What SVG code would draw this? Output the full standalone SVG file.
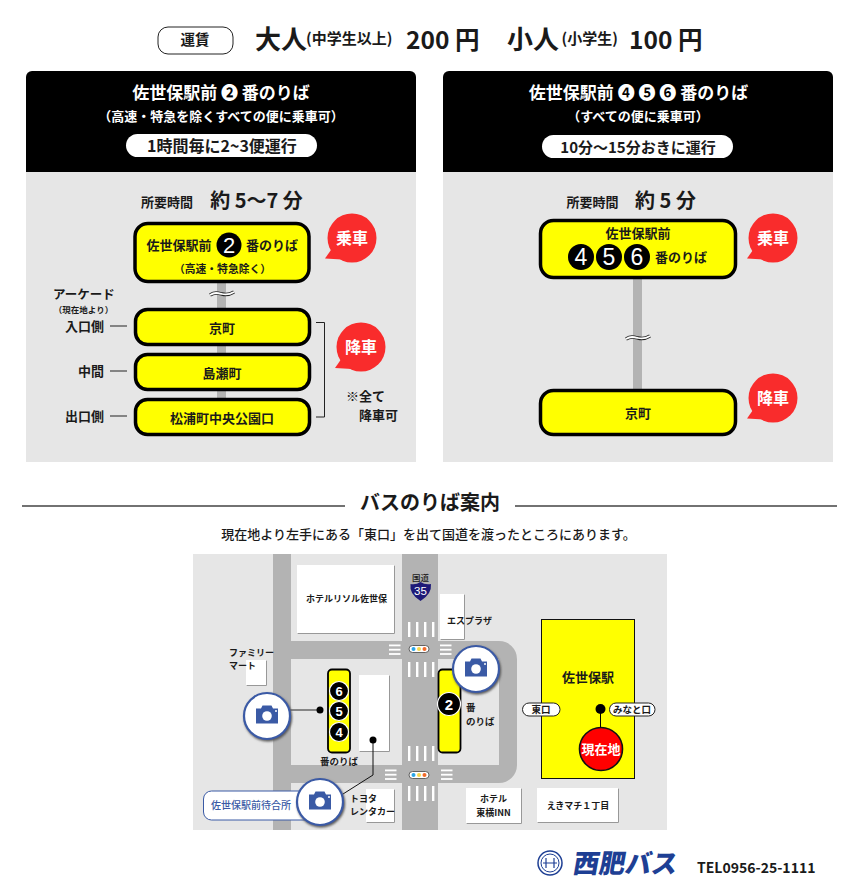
<svg xmlns="http://www.w3.org/2000/svg" xmlns:xlink="http://www.w3.org/1999/xlink" width="860" height="890" viewBox="0 0 860 890">
<style>
text{font-family:"Noto Sans CJK JP","Noto Sans",sans-serif;font-weight:700;fill:#1a1a1a;text-anchor:middle}
.w{fill:#fff}.s{text-anchor:start}.e{text-anchor:end}
.n{font-family:"Liberation Sans",sans-serif;font-weight:400;fill:#fff}
.y{fill:#ff0;stroke:#000;stroke-width:3.5}
.road{fill:#b3b3b3}
.bld{fill:#fff;filter:url(#sh)}
.st{fill:#fff}
.b{fill:#f92c2c}
.wave1{fill:none;stroke:#222;stroke-width:3.4}
.wave2{fill:none;stroke:#fff;stroke-width:1.8}
.cam{fill:#fff;stroke:#3a5aa5;stroke-width:2.2;filter:url(#sh2)}
.f13{font-size:13px}.f12{font-size:13px}.f10{font-size:10.800px}
</style>
<defs>
<filter id="sh" x="-20%" y="-20%" width="140%" height="140%"><feDropShadow dx="0.7" dy="0.7" stdDeviation="0.4" flood-color="#777"/></filter>
<filter id="sh2" x="-20%" y="-20%" width="140%" height="140%"><feDropShadow dx="1" dy="1.5" stdDeviation="1.2" flood-color="#555"/></filter>
<g id="camicon"><path d="M-11-7.500h5l1.500-3h9l1.500 3h5v15h-22z" fill="#3a5aa5"/><circle cx="0" cy="0" r="4.800" fill="#fff"/><circle cx="9" cy="-5" r="1" fill="#fff"/></g>
<g id="stripesV"><rect x="408" width="2.400" height="15" class="st"/><rect x="416" width="2.400" height="15" class="st"/><rect x="424" width="2.400" height="15" class="st"/><rect x="432" width="2.400" height="15" class="st"/></g>
<g id="stripesH"><rect width="11.500" height="1.800" class="st"/><rect y="4.300" width="11.500" height="1.800" class="st"/><rect y="8.600" width="11.500" height="1.800" class="st"/></g>
<g id="sig"><rect x="-10" y="-3.500" width="20" height="7" rx="3.500" fill="#fff" stroke="#444" stroke-width=".8"/><circle cx="-5.500" r="2" fill="#2aa5e8"/><circle r="2" fill="#f7d84a"/><circle cx="5.500" r="2" fill="#f26a2a"/></g>
</defs>
<rect width="860" height="890" fill="#fff"/>

<g id="fare">
<rect x="158" y="27" width="75" height="27" rx="10" fill="#fff" stroke="#222" stroke-width="1"/>
<text x="195" y="45" font-size="14.500">運賃</text>
<text x="255" y="49" class="s" font-size="26">大人</text>
<text x="306" y="44" class="s" font-size="15">(中学生以上)</text>
<text x="406" y="49" class="s" font-size="24.500">200 円</text>
<text x="507" y="49" class="s" font-size="26">小人</text>
<text x="561.500" y="44" class="s" font-size="15">(小学生)</text>
<text x="629" y="49" class="s" font-size="24.500">100 円</text>
</g>

<g id="panel-left">
<rect x="26" y="172" width="390" height="290" fill="#e6e6e6"/>
<path d="M26 172V77a6 6 0 0 1 6-6H410a6 6 0 0 1 6 6V172z" fill="#000"/>
<text x="221" y="99" class="w" font-size="17">佐世保駅前 ❷ 番のりば</text>
<text x="221" y="121" class="w" font-size="13">（高速・特急を除くすべての便に乗車可）</text>
<rect x="126" y="134" width="191" height="23" rx="11.500" fill="#fff"/>
<text x="222" y="151.500" font-size="16">1時間毎に2~3便運行</text>
<text x="167" y="207" class="f12">所要時間</text>
<text x="256.500" y="208" font-size="20">約 5〜7 分</text>
</g>

<g id="panel-right">
<rect x="443" y="172" width="390" height="290" fill="#e6e6e6"/>
<path d="M443 172V77a6 6 0 0 1 6-6H827a6 6 0 0 1 6 6V172z" fill="#000"/>
<text x="638.500" y="99" class="w" font-size="17">佐世保駅前 ❹ ❺ ❻ 番のりば</text>
<text x="638" y="121" class="w" font-size="13">（すべての便に乗車可）</text>
<rect x="542" y="135" width="191" height="23" rx="11.500" fill="#fff"/>
<text x="638" y="152.500" font-size="15">10分～15分おきに運行</text>
<text x="592.500" y="207" class="f12">所要時間</text>
<text x="665.500" y="208" font-size="20">約 5 分</text>
</g>

<g id="connectors">
<rect x="217" y="283" width="9" height="115" fill="#b3b3b3"/>
<rect x="633" y="279" width="9" height="110" fill="#b3b3b3"/>
<path class="wave1" d="M210 295c5-3 8-2 12-1s7 1 12-2"/><path class="wave2" d="M210 295c5-3 8-2 12-1s7 1 12-2"/>
<path class="wave1" d="M626 339c5-3 8-2 12-1s7 1 12-2"/><path class="wave2" d="M626 339c5-3 8-2 12-1s7 1 12-2"/>
<path d="M316 322.500h8.500v94.500h-8.500" fill="none" stroke="#222" stroke-width="1"/>
<path d="M110 326h17M110 371h17M110 416h17" fill="none" stroke="#222" stroke-width="1"/>
</g>

<g id="stop-2-board"><rect class="y" x="135" y="223.500" width="174" height="58" rx="13"/>
<text x="179" y="250" class="f13">佐世保駅前</text><circle cx="229" cy="245" r="12.500" fill="#000"/><text x="229" y="253" class="n" font-size="22">2</text><text x="272" y="250" class="f13">番のりば</text>
<text x="222.500" y="273" class="f10">（高速・特急除く）</text></g>
<g id="stop-kyomachi-l"><rect class="y" x="135.500" y="309.500" width="174" height="35" rx="12"/><text x="222" y="333" class="f13">京町</text></g>
<g id="stop-shimanose"><rect class="y" x="135.500" y="354.500" width="174" height="35" rx="12"/><text x="222" y="378" class="f13">島瀬町</text></g>
<g id="stop-matsuura"><rect class="y" x="135.500" y="399.500" width="174" height="35" rx="12"/><text x="222" y="423" class="f13">松浦町中央公園口</text></g>
<g id="stop-456-board"><rect class="y" x="540.500" y="220.500" width="195" height="57" rx="13"/>
<text x="638" y="238" class="f13">佐世保駅前</text>
<circle cx="581" cy="257" r="13" fill="#000"/><text x="581" y="265" class="n" font-size="23">4</text>
<circle cx="609" cy="257" r="13" fill="#000"/><text x="609" y="265" class="n" font-size="23">5</text>
<circle cx="637" cy="257" r="13" fill="#000"/><text x="637" y="265" class="n" font-size="23">6</text>
<text x="681" y="262" class="f13">番のりば</text></g>
<g id="stop-kyomachi-r"><rect class="y" x="540.500" y="390.500" width="195" height="44" rx="13"/><text x="638" y="418" class="f13">京町</text></g>

<g id="labels-left">
<text x="84" y="299" font-size="12.500">アーケード</text>
<text x="83.500" y="312.500" font-size="8.500">（現在地より）</text>
<text x="104" y="331" class="e f12">入口側</text>
<text x="104" y="376" class="e f12">中間</text>
<text x="104" y="421" class="e f12">出口側</text>
<text x="346" y="401" class="s f12">※全て</text>
<text x="359" y="420" class="s f12">降車可</text>
</g>

<g id="bubble-board-l"><circle class="b" cx="352" cy="238" r="24.500"/><path class="b" d="M325 258.500l7-10 10 11z"/><text x="352" y="244" class="w" font-size="16">乗車</text></g>
<g id="bubble-alight-l"><circle class="b" cx="361" cy="347" r="24.500"/><path class="b" d="M335 368l7-10 10 11z"/><text x="361" y="353" class="w" font-size="16">降車</text></g>
<g id="bubble-board-r"><circle class="b" cx="773" cy="238" r="24.500"/><path class="b" d="M747 258.500l7-10 10 11z"/><text x="773" y="244" class="w" font-size="16">乗車</text></g>
<g id="bubble-alight-r"><circle class="b" cx="773" cy="398" r="24.500"/><path class="b" d="M747 418.500l7-10 10 11z"/><text x="773" y="404" class="w" font-size="16">降車</text></g>

<g id="section-title">
<path d="M22 506H345M515 506H837" stroke="#444" stroke-width="1.300" fill="none"/>
<text x="430" y="510" font-size="20">バスのりば案内</text>
<text x="428.500" y="539" font-size="13" style="font-weight:500">現在地より左手にある「東口」を出て国道を渡ったところにあります。</text>
</g>

<g id="map">
<rect x="193" y="554" width="474" height="276" fill="#e6e6e6"/>
<rect class="road" x="273" y="554" width="18" height="276"/>
<rect class="road" x="402" y="554" width="36" height="276"/>
<path class="road" fill-rule="evenodd" d="M291 641H499a18 18 0 0 1 18 18V765a18 18 0 0 1-18 18H291V765H499V659H291z"/>
<use xlink:href="#stripesV" href="#stripesV" y="622"/><use xlink:href="#stripesV" href="#stripesV" y="662"/><use xlink:href="#stripesV" href="#stripesV" y="746"/><use xlink:href="#stripesV" href="#stripesV" y="786"/>
<use xlink:href="#stripesH" href="#stripesH" x="389" y="644.500"/><use xlink:href="#stripesH" href="#stripesH" x="440" y="644.500"/><use xlink:href="#stripesH" href="#stripesH" x="385" y="769.500"/><use xlink:href="#stripesH" href="#stripesH" x="441" y="769.500"/>
<use xlink:href="#sig" href="#sig" x="419" y="649"/><use xlink:href="#sig" href="#sig" x="419" y="775"/>
</g>
<g id="route35"><text x="420.500" y="580.500" font-size="8.500" style="font-weight:500">国道</text><path d="M410.500 584Q416 585 420.500 582Q425 585 431 584Q432 594 420.500 601Q409 594 410.500 584z" fill="#1e1a78"/><text x="420.500" y="595" class="n" font-size="11.500">35</text></g>
<g id="bld-hotel"><rect class="bld" x="297" y="565" width="97" height="68"/><text x="346.500" y="602" font-size="9">ホテルリソル佐世保</text></g>
<g id="bld-family"><rect class="bld" x="246" y="660" width="20" height="25"/><text x="229" y="656" class="s" font-size="9">ファミリー</text><text x="229" y="669" class="s" font-size="9">マート</text></g>
<g id="bld-waiting"><rect class="bld" x="359" y="675" width="30" height="76"/></g>
<g id="bld-toyota"><rect class="bld" x="366" y="789" width="28" height="33"/><text x="350" y="802" class="s" font-size="9">トヨタ</text><text x="350" y="815" class="s" font-size="9">レンタカー</text></g>
<g id="bld-esplaza"><rect class="bld" x="440" y="594" width="24" height="45"/><text x="447" y="624" class="s" font-size="9">エスプラザ</text></g>
<g id="bld-toyoko"><rect class="bld" x="466" y="788" width="55" height="35"/><text x="493.500" y="802" font-size="9">ホテル</text><text x="493.500" y="816" font-size="9">東横INN</text></g>
<g id="bld-ekimachi"><rect class="bld" x="537" y="788" width="81" height="34"/><text x="578" y="809" font-size="9">えきマチ１丁目</text></g>
<g id="station"><rect x="541.500" y="619.500" width="93" height="159" fill="#ff0" stroke="#111" stroke-width="1"/><text x="588" y="682" font-size="13">佐世保駅</text></g>
<g id="exit-east"><rect x="522.500" y="703" width="37.500" height="13" rx="6.500" fill="#fff" stroke="#222" stroke-width="1"/><text x="541" y="713" font-size="9.500">東口</text></g>
<g id="exit-minato"><rect x="609.500" y="703" width="45.500" height="13" rx="6.500" fill="#fff" stroke="#222" stroke-width="1"/><text x="632" y="713" font-size="9.500">みなと口</text></g>
<g id="here"><circle cx="600.500" cy="709" r="5" fill="#000"/><path d="M600.500 709V732" stroke="#000" stroke-width="1"/><circle cx="601" cy="749" r="21.500" fill="#f00" stroke="#111" stroke-width="1.600"/><text x="601" y="753.500" class="w" font-size="13">現在地</text></g>
<g id="bay-456"><rect x="328" y="669.500" width="22" height="83" rx="4" fill="#ff0" stroke="#000" stroke-width="1.800"/>
<circle cx="339" cy="691" r="9.500" fill="#000" stroke="#fff" stroke-width="1.200"/><text x="339" y="695.500" class="n" font-size="13" style="font-weight:700">6</text>
<circle cx="339" cy="711" r="9.500" fill="#000" stroke="#fff" stroke-width="1.200"/><text x="339" y="715.500" class="n" font-size="13" style="font-weight:700">5</text>
<circle cx="339" cy="732" r="9.500" fill="#000" stroke="#fff" stroke-width="1.200"/><text x="339" y="736.500" class="n" font-size="13" style="font-weight:700">4</text>
<text x="339" y="765" font-size="9.500">番のりば</text></g>
<g id="bay-2"><rect x="438.500" y="669.500" width="22" height="83" rx="4" fill="#ff0" stroke="#000" stroke-width="1.800"/>
<circle cx="449" cy="704" r="11.500" fill="#000" stroke="#fff" stroke-width="1.200"/><text x="449" y="709.500" class="n" font-size="15" style="font-weight:700">2</text>
<text x="466" y="711" class="s" font-size="9.500">番</text><text x="466" y="725" class="s" font-size="9.500">のりば</text></g>
<g id="map-connectors"><path d="M285 710H320" stroke="#666" stroke-width="1.500"/><path d="M373 740V775L343 794" fill="none" stroke="#111" stroke-width="1"/><circle cx="320" cy="710" r="3.500" fill="#000"/><circle cx="373" cy="740" r="3.500" fill="#000"/></g>
<g id="cam-west"><circle class="cam" cx="267" cy="716" r="23"/><use xlink:href="#camicon" href="#camicon" x="267" y="716"/></g>
<g id="cam-waiting"><rect x="203.500" y="791" width="125" height="29" rx="8" fill="#fff" stroke="#3a5aa5" stroke-width="1"/><text x="251" y="809" font-size="10" style="fill:#3a5aa5;font-weight:500">佐世保駅前待合所</text><circle class="cam" cx="320" cy="802" r="23"/><use xlink:href="#camicon" href="#camicon" x="320" y="802"/></g>
<g id="cam-east"><circle class="cam" cx="476" cy="669" r="23"/><use xlink:href="#camicon" href="#camicon" x="476" y="669"/></g>

<g id="logo">
<circle cx="550" cy="863" r="12" fill="none" stroke="#1e3f94" stroke-width="1.500"/><circle cx="550" cy="863" r="9" fill="none" stroke="#1e3f94" stroke-width="1"/><path d="M543 863H557M546 858V868M554 858V868" stroke="#1e3f94" stroke-width="1.200"/>
<text x="572" y="873" class="s" font-size="26" transform="translate(154 0) skewX(-10)" style="font-weight:900;fill:#1e3f94">西肥バス</text>
<text x="697" y="873" class="s" font-size="14">TEL0956-25-1111</text>
</g>
</svg>
